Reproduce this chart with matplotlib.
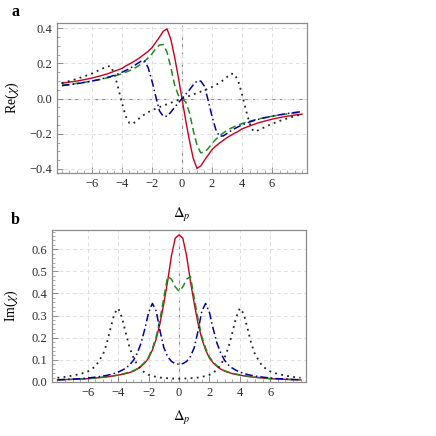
import matplotlib
matplotlib.use("Agg")
import matplotlib.pyplot as plt
from matplotlib.ticker import MultipleLocator

plt.rcParams['font.family'] = ['Liberation Serif', 'DejaVu Serif']
plt.rcParams['mathtext.fontset'] = 'stix'

# probe detuning grid
dp = [-8, -7.5, -7, -6.5, -6, -5.5, -5, -4.75, -4.5, -4.25, -4, -3.75, -3.5, -3.25,
      -3, -2.75, -2.5, -2.25, -2, -1.75, -1.5, -1.25, -1, -0.75, -0.5, -0.25,
      0, 0.25, 0.5, 0.75, 1, 1.25, 1.5, 1.75, 2, 2.25, 2.5, 2.75, 3, 3.25, 3.5,
      3.75, 4, 4.25, 4.5, 4.75, 5, 5.5, 6, 6.5, 7, 7.5, 8]

# Re(chi)
re_red = [0.088, 0.094, 0.1, 0.108, 0.117, 0.128, 0.14, 0.148, 0.156, 0.164, 0.172, 0.186, 0.197,
          0.209, 0.222, 0.237, 0.253, 0.27, 0.29, 0.32, 0.35, 0.383, 0.397, 0.34, 0.24, 0.125,
          0, -0.125, -0.24, -0.34, -0.397, -0.383, -0.35, -0.32, -0.29, -0.27, -0.253, -0.237,
          -0.222, -0.209, -0.197, -0.186, -0.172, -0.164, -0.156, -0.148, -0.14, -0.128,
          -0.117, -0.108, -0.1, -0.094, -0.088]
re_green = [0.077, 0.081, 0.087, 0.093, 0.1, 0.108, 0.118, 0.123, 0.129, 0.135, 0.142, 0.15, 0.159,
            0.169, 0.181, 0.195, 0.212, 0.232, 0.255, 0.283, 0.305, 0.308, 0.265, 0.18, 0.08, 0.02,
            0, -0.02, -0.08, -0.18, -0.265, -0.308, -0.305, -0.283, -0.255, -0.232, -0.212, -0.195,
            -0.181, -0.169, -0.159, -0.15, -0.142, -0.135, -0.129, -0.123, -0.118, -0.108,
            -0.1, -0.093, -0.087, -0.081, -0.077]
re_blue = [0.074, 0.079, 0.085, 0.092, 0.1, 0.109, 0.12, 0.126, 0.133, 0.141, 0.15, 0.16, 0.171,
           0.184, 0.198, 0.212, 0.214, 0.175, 0.1, 0.012, -0.07, -0.1, -0.1, -0.078, -0.05, -0.025,
           0, 0.025, 0.05, 0.078, 0.1, 0.1, 0.07, -0.012, -0.1, -0.175, -0.214, -0.212,
           -0.198, -0.184, -0.171, -0.16, -0.15, -0.141, -0.133, -0.126, -0.12, -0.109,
           -0.1, -0.092, -0.085, -0.079, -0.074]
re_black = [0.088, 0.1, 0.113, 0.127, 0.143, 0.163, 0.183, 0.185, 0.14, 0.06, -0.025, -0.1, -0.14,
            -0.142, -0.123, -0.105, -0.09, -0.077, -0.066, -0.057, -0.048, -0.04, -0.032, -0.024,
            -0.016, -0.008,
            0, 0.008, 0.016, 0.024, 0.032, 0.04, 0.048, 0.057, 0.066, 0.077, 0.09, 0.105,
            0.123, 0.142, 0.14, 0.1, 0.025, -0.06, -0.14, -0.185, -0.183, -0.163,
            -0.143, -0.127, -0.113, -0.1, -0.088]

# Im(chi)
im_red = [0.01, 0.011, 0.012, 0.013, 0.015, 0.018, 0.021, 0.023, 0.025, 0.028, 0.031, 0.034, 0.038,
          0.043, 0.049, 0.058, 0.07, 0.086, 0.108, 0.145, 0.195, 0.265, 0.355, 0.455, 0.57, 0.65,
          0.665, 0.65, 0.57, 0.455, 0.355, 0.265, 0.195, 0.145, 0.108, 0.086, 0.07, 0.058,
          0.049, 0.043, 0.038, 0.034, 0.031, 0.028, 0.025, 0.023, 0.021, 0.018,
          0.015, 0.013, 0.012, 0.011, 0.01]
im_green = [0.01, 0.011, 0.012, 0.013, 0.015, 0.018, 0.022, 0.024, 0.026, 0.029, 0.032, 0.036, 0.04,
            0.045, 0.051, 0.06, 0.073, 0.09, 0.113, 0.152, 0.205, 0.285, 0.38, 0.477, 0.465, 0.43,
            0.41, 0.43, 0.465, 0.477, 0.38, 0.285, 0.205, 0.152, 0.113, 0.09, 0.073, 0.06,
            0.051, 0.045, 0.04, 0.036, 0.032, 0.029, 0.026, 0.024, 0.022, 0.018,
            0.015, 0.013, 0.012, 0.011, 0.01]
im_blue = [0.01, 0.011, 0.013, 0.015, 0.018, 0.022, 0.027, 0.03, 0.034, 0.039, 0.045, 0.053, 0.063,
           0.077, 0.098, 0.13, 0.175, 0.24, 0.315, 0.355, 0.32, 0.23, 0.155, 0.115, 0.093, 0.083,
           0.08, 0.083, 0.093, 0.115, 0.155, 0.23, 0.32, 0.355, 0.315, 0.24, 0.175, 0.13,
           0.098, 0.077, 0.063, 0.053, 0.045, 0.039, 0.034, 0.03, 0.027, 0.022,
           0.018, 0.015, 0.013, 0.011, 0.01]
im_black = [0.019, 0.023, 0.029, 0.036, 0.048, 0.07, 0.125, 0.175, 0.245, 0.31, 0.333, 0.29, 0.22,
            0.155, 0.11, 0.078, 0.056, 0.042, 0.032, 0.027, 0.023, 0.02, 0.018, 0.017, 0.016, 0.015,
            0.015, 0.015, 0.016, 0.017, 0.018, 0.02, 0.023, 0.027, 0.032, 0.042, 0.056, 0.078,
            0.11, 0.155, 0.22, 0.29, 0.333, 0.31, 0.245, 0.175, 0.125, 0.07,
            0.048, 0.036, 0.029, 0.023, 0.019]

RED = '#c8001e'
GREEN = '#1e8c1e'
BLUE = '#00009c'
BLACK = '#222222'


def style_axes(ax, ymajor, yminor):
    for s in ax.spines.values():
        s.set_color('#8c8c8c')
        s.set_linewidth(0.9)
    ax.xaxis.set_major_locator(MultipleLocator(2))
    ax.xaxis.set_minor_locator(MultipleLocator(0.5))
    ax.yaxis.set_major_locator(MultipleLocator(ymajor))
    ax.yaxis.set_minor_locator(MultipleLocator(yminor))
    ax.tick_params(which='both', direction='in', color='#8c8c8c', labelsize=9,
                   labelcolor='#2a2a2a', top=False, right=False)
    ax.tick_params(which='major', length=4, width=0.7)
    ax.tick_params(which='minor', length=2, width=0.5)
    ax.grid(True, which='major', color='#e0e0e0', lw=0.7, ls=(0, (4, 3)))
    ax.axvline(0, color='#8c8c8c', lw=0.8, ls=(0, (5, 3)), zorder=1)


def draw_curves(ax, red, green, blue, black):
    ax.plot(dp, red, color=RED, lw=1.0, zorder=3)
    ax.plot(dp, green, color=GREEN, lw=1.1, ls=(0, (4.5, 2.5)), zorder=3)
    ax.plot(dp, blue, color=BLUE, lw=1.1, ls=(0, (5, 2, 1, 2)), zorder=3)
    ax.plot(dp, black, color=BLACK, lw=1.3, ls=(0, (1, 2.4)), zorder=3)


fig = plt.figure(figsize=(4.36, 4.36), dpi=100)

ax_a = fig.add_axes([0.1307, 0.6032, 0.5734, 0.344])
style_axes(ax_a, 0.2, 0.05)
ax_a.axhline(0, color='#8c8c8c', lw=0.8, ls=(0, (5, 3)), zorder=1)
draw_curves(ax_a, re_red, re_green, re_blue, re_black)
ax_a.set_xlim(-8.33, 8.33)
ax_a.set_ylim(-0.423, 0.43)
ax_a.set_xticks([-6, -4, -2, 0, 2, 4, 6])
ax_a.set_ylabel(r'Re($\chi$)', fontsize=10)
ax_a.yaxis.set_label_coords(-0.145, 0.5)
ax_a.set_xlabel(r'$\Delta_p$', fontsize=10.5)
ax_a.xaxis.set_label_coords(0.5, -0.22)

ax_b = fig.add_axes([0.1193, 0.1239, 0.5826, 0.3486])
style_axes(ax_b, 0.1, 0.02)
draw_curves(ax_b, im_red, im_green, im_blue, im_black)
ax_b.set_xlim(-8.36, 8.36)
ax_b.set_ylim(0, 0.687)
ax_b.set_xticks([-6, -4, -2, 0, 2, 4, 6])
ax_b.set_ylabel(r'Im($\chi$)', fontsize=10)
ax_b.yaxis.set_label_coords(-0.128, 0.5)
ax_b.set_xlabel(r'$\Delta_p$', fontsize=10.5)
ax_b.xaxis.set_label_coords(0.51, -0.18)

fig.text(15 / 436, 1 - 12 / 436, 'a', fontsize=11.5, fontweight='bold', va='center', ha='center')
fig.text(15 / 436, 1 - 220 / 436, 'b', fontsize=11.5, fontweight='bold', va='center', ha='center')

fig.savefig('out.png', dpi=100)
